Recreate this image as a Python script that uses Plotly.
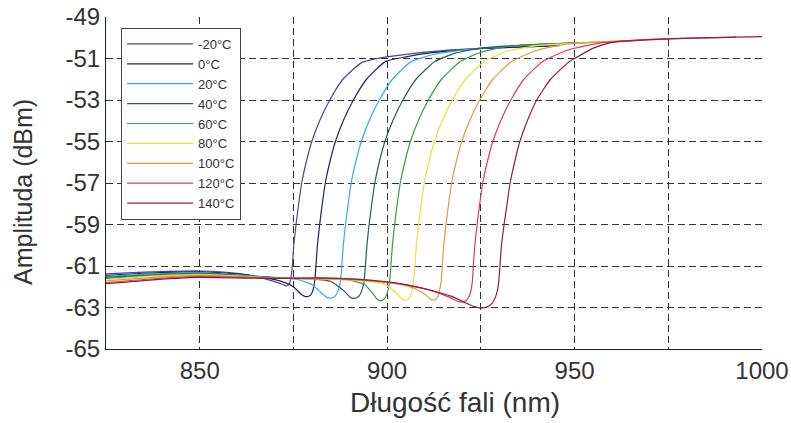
import plotly.graph_objects as go

# ---- data ----
labels = ["-20°C", "0°C", "20°C", "40°C", "60°C", "80°C", "100°C", "120°C", "140°C"]
colors = ["#4a44a0", "#1e2460", "#30b0d8", "#2a5a5a", "#3a9a48", "#e8e040", "#e09a40", "#e03c5a", "#8c2040"]

wl_m20 = [825, 835, 850, 860, 866, 870, 872, 873.2, 873.9, 874.3, 874.7, 875.1, 875.7, 876.4, 877.2, 878.4,
          879.9, 882.0, 884.7, 888.2, 893.2, 899, 905, 915, 930, 943]
amp_m20 = [-61.38, -61.3, -61.24, -61.35, -61.55, -61.75, -61.88, -61.96, -61.85, -61.6, -61.0, -60.0, -59.0,
           -58.0, -57.0, -56.0, -55.0, -54.0, -53.0, -52.0, -51.2, -50.95, -50.8, -50.62, -50.48, -50.4]

wl_0 = [825, 835, 850, 860, 867, 872, 875, 877, 877.9, 878.5, 879.2, 879.8, 880.3, 880.7, 881.0, 881.4, 882.0,
        882.7, 883.5, 884.7, 886.2, 888.3, 891.0, 894.5, 899.5, 905, 912, 925, 946]
amp_0 = [-61.45, -61.35, -61.28, -61.38, -61.55, -61.75, -62.0, -62.35, -62.45, -62.48, -62.45, -62.35, -62.1,
         -61.7, -61.0, -60.0, -59.0, -58.0, -57.0, -56.0, -55.0, -54.0, -53.0, -52.0, -51.15, -50.92, -50.72,
         -50.52, -50.38]

wl_20 = [825, 835, 850, 862, 870, 876, 880, 882.5, 883.8, 884.7, 885.6, 886.3, 886.9, 887.5, 887.9, 888.3, 888.9,
         889.6, 890.4, 891.6, 893.1, 895.2, 897.9, 901.4, 906.4, 912, 920, 935, 950]
amp_20 = [-61.5, -61.4, -61.32, -61.45, -61.55, -61.65, -61.9, -62.3, -62.5, -62.55, -62.52, -62.42, -62.2,
          -61.8, -61.0, -60.0, -59.0, -58.0, -57.0, -56.0, -55.0, -54.0, -53.0, -52.0, -51.15, -50.82, -50.6,
          -50.38, -50.25]

wl_40 = [825, 835, 850, 862, 872, 880, 885, 888.5, 890.1, 891.0, 891.9, 892.6, 893.2, 893.8, 894.2, 894.6, 895.2,
         895.9, 896.7, 897.9, 899.4, 901.5, 904.2, 907.7, 912.7, 918, 925, 940, 953]
amp_40 = [-61.55, -61.45, -61.36, -61.47, -61.58, -61.62, -61.75, -62.2, -62.5, -62.56, -62.53, -62.43, -62.2,
          -61.8, -61.0, -60.0, -59.0, -58.0, -57.0, -56.0, -55.0, -54.0, -53.0, -52.0, -51.15, -50.75, -50.5,
          -50.32, -50.25]

wl_60 = [825, 835, 850, 862, 872, 882, 890, 894, 896.3, 897.3, 898.1, 898.9, 899.6, 900.1, 900.6, 901.0, 901.4,
         902.0, 902.7, 903.5, 904.7, 906.2, 908.3, 911.0, 914.5, 919.5, 925, 932, 945, 962]
amp_60 = [-61.6, -61.48, -61.38, -61.48, -61.58, -61.62, -61.68, -61.9, -62.35, -62.6, -62.68, -62.64, -62.5,
          -62.25, -61.85, -61.0, -60.0, -59.0, -58.0, -57.0, -56.0, -55.0, -54.0, -53.0, -52.0, -51.15, -50.7,
          -50.42, -50.28, -50.17]

wl_80 = [825, 835, 850, 862, 872, 882, 892, 899, 902.5, 903.9, 904.8, 905.6, 906.2, 906.6, 907.0, 907.4, 907.8,
         908.4, 909.1, 909.9, 911.1, 912.6, 914.7, 917.4, 920.9, 925.9, 932, 940, 955, 966]
amp_80 = [-61.65, -61.52, -61.42, -61.5, -61.6, -61.62, -61.7, -61.85, -62.3, -62.58, -62.65, -62.6, -62.45,
          -62.2, -61.8, -61.0, -60.0, -59.0, -58.0, -57.0, -56.0, -55.0, -54.0, -53.0, -52.0, -51.15, -50.65,
          -50.38, -50.22, -50.15]

wl_100 = [825, 835, 850, 862, 872, 882, 892, 900, 906, 910, 911.4, 912.3, 913.1, 913.6, 914.0, 914.4, 914.7,
          915.1, 915.7, 916.4, 917.2, 918.4, 919.9, 922.0, 924.7, 928.2, 933.2, 940, 948, 960, 975]
amp_100 = [-61.72, -61.58, -61.45, -61.52, -61.6, -61.6, -61.68, -61.8, -61.98, -62.35, -62.58, -62.65, -62.58,
           -62.42, -62.15, -61.75, -61.0, -60.0, -59.0, -58.0, -57.0, -56.0, -55.0, -54.0, -53.0, -52.0, -51.15,
           -50.6, -50.3, -50.17, -50.05]

wl_120 = [825, 835, 850, 862, 872, 882, 892, 900, 906, 912, 916.5, 918.8, 919.9, 921.0, 921.7, 922.2, 922.7,
          923.0, 923.4, 924.0, 924.7, 925.5, 926.7, 928.2, 930.3, 933.0, 936.5, 941.5, 948, 956, 970, 993]
amp_120 = [-61.8, -61.65, -61.5, -61.55, -61.6, -61.58, -61.65, -61.78, -61.95, -62.2, -62.5, -62.7, -62.74,
           -62.68, -62.52, -62.3, -61.8, -61.0, -60.0, -59.0, -58.0, -57.0, -56.0, -55.0, -54.0, -53.0, -52.0,
           -51.15, -50.6, -50.28, -50.08, -49.97]

wl_140 = [825, 835, 850, 862, 872, 882, 892, 900, 906, 912, 917, 921, 923.3, 925.0, 926.7, 928.0, 928.9, 929.5,
          929.8, 930.1, 930.5, 931.2, 932.0, 932.8, 934.0, 935.4, 937.4, 939.9, 943.6, 948.6, 950, 955, 960, 975,
          1000]
amp_140 = [-61.85, -61.7, -61.55, -61.58, -61.6, -61.57, -61.63, -61.76, -61.93, -62.18, -62.45, -62.78, -62.96,
           -63.02, -62.97, -62.8, -62.5, -62.1, -61.7, -61.0, -60.0, -59.0, -58.0, -57.0, -56.0, -55.0, -54.0,
           -53.0, -52.0, -51.15, -51.0, -50.5, -50.22, -50.05, -49.95]

wavelengths = [wl_m20, wl_0, wl_20, wl_40, wl_60, wl_80, wl_100, wl_120, wl_140]
amplitudes = [amp_m20, amp_0, amp_20, amp_40, amp_60, amp_80, amp_100, amp_120, amp_140]

x_tickvals = [850, 875, 900, 925, 950, 975, 1000]
x_ticktext = ["850", "", "900", "", "950", "", "1000"]
y_tickvals = [-65, -63, -61, -59, -57, -55, -53, -51, -49]
y_ticktext = ["-65", "-63", "-61", "-59", "-57", "-55", "-53", "-51", "-49"]

# ---- figure ----
fig = go.Figure()
for wl, amp, name, col in zip(wavelengths, amplitudes, labels, colors):
    fig.add_trace(go.Scatter(x=wl, y=amp, mode="lines", name=name,
                             line=dict(color=col, width=1.2, shape="spline", smoothing=0.5)))

font_family = "Liberation Sans, Arial, sans-serif"
grid_common = dict(showgrid=True, gridcolor="#333333", gridwidth=1, griddash="7px,4px",
                   zeroline=False, showline=True, linecolor="#222222", linewidth=1.2,
                   ticks="", automargin=False,
                   tickfont=dict(family=font_family, size=24, color="#333333"))

fig.update_layout(
    width=791, height=423,
    margin=dict(l=106, r=29, t=17, b=74),
    paper_bgcolor="white", plot_bgcolor="white",
    font=dict(family=font_family, color="#333333"),
    showlegend=True,
    legend=dict(x=0.023, y=0.967, xanchor="left", yanchor="top",
                bgcolor="white", bordercolor="#444444", borderwidth=1,
                font=dict(family=font_family, size=13, color="#333333"),
                itemwidth=66, tracegroupgap=0),
    xaxis=dict(range=[825, 1000], tickvals=x_tickvals, ticktext=x_ticktext, **grid_common),
    yaxis=dict(range=[-65, -49], tickvals=y_tickvals, ticktext=y_ticktext, **grid_common),
    annotations=[
        dict(text="Długość fali (nm)", xref="paper", yref="paper", x=0.532, y=-0.16,
             xanchor="center", yanchor="middle", showarrow=False,
             font=dict(family=font_family, size=28, color="#333333")),
        dict(text="Amplituda (dBm)", xref="paper", yref="paper", x=-0.1265, y=0.473,
             xanchor="center", yanchor="middle", showarrow=False, textangle=-90,
             font=dict(family=font_family, size=25, color="#333333")),
    ],
)

# remove the browser's default 8px page margin so the figure fills the window exactly
fig.write_html("out.html", config={"displayModeBar": False},
               post_script="document.body.style.margin='0px';")
